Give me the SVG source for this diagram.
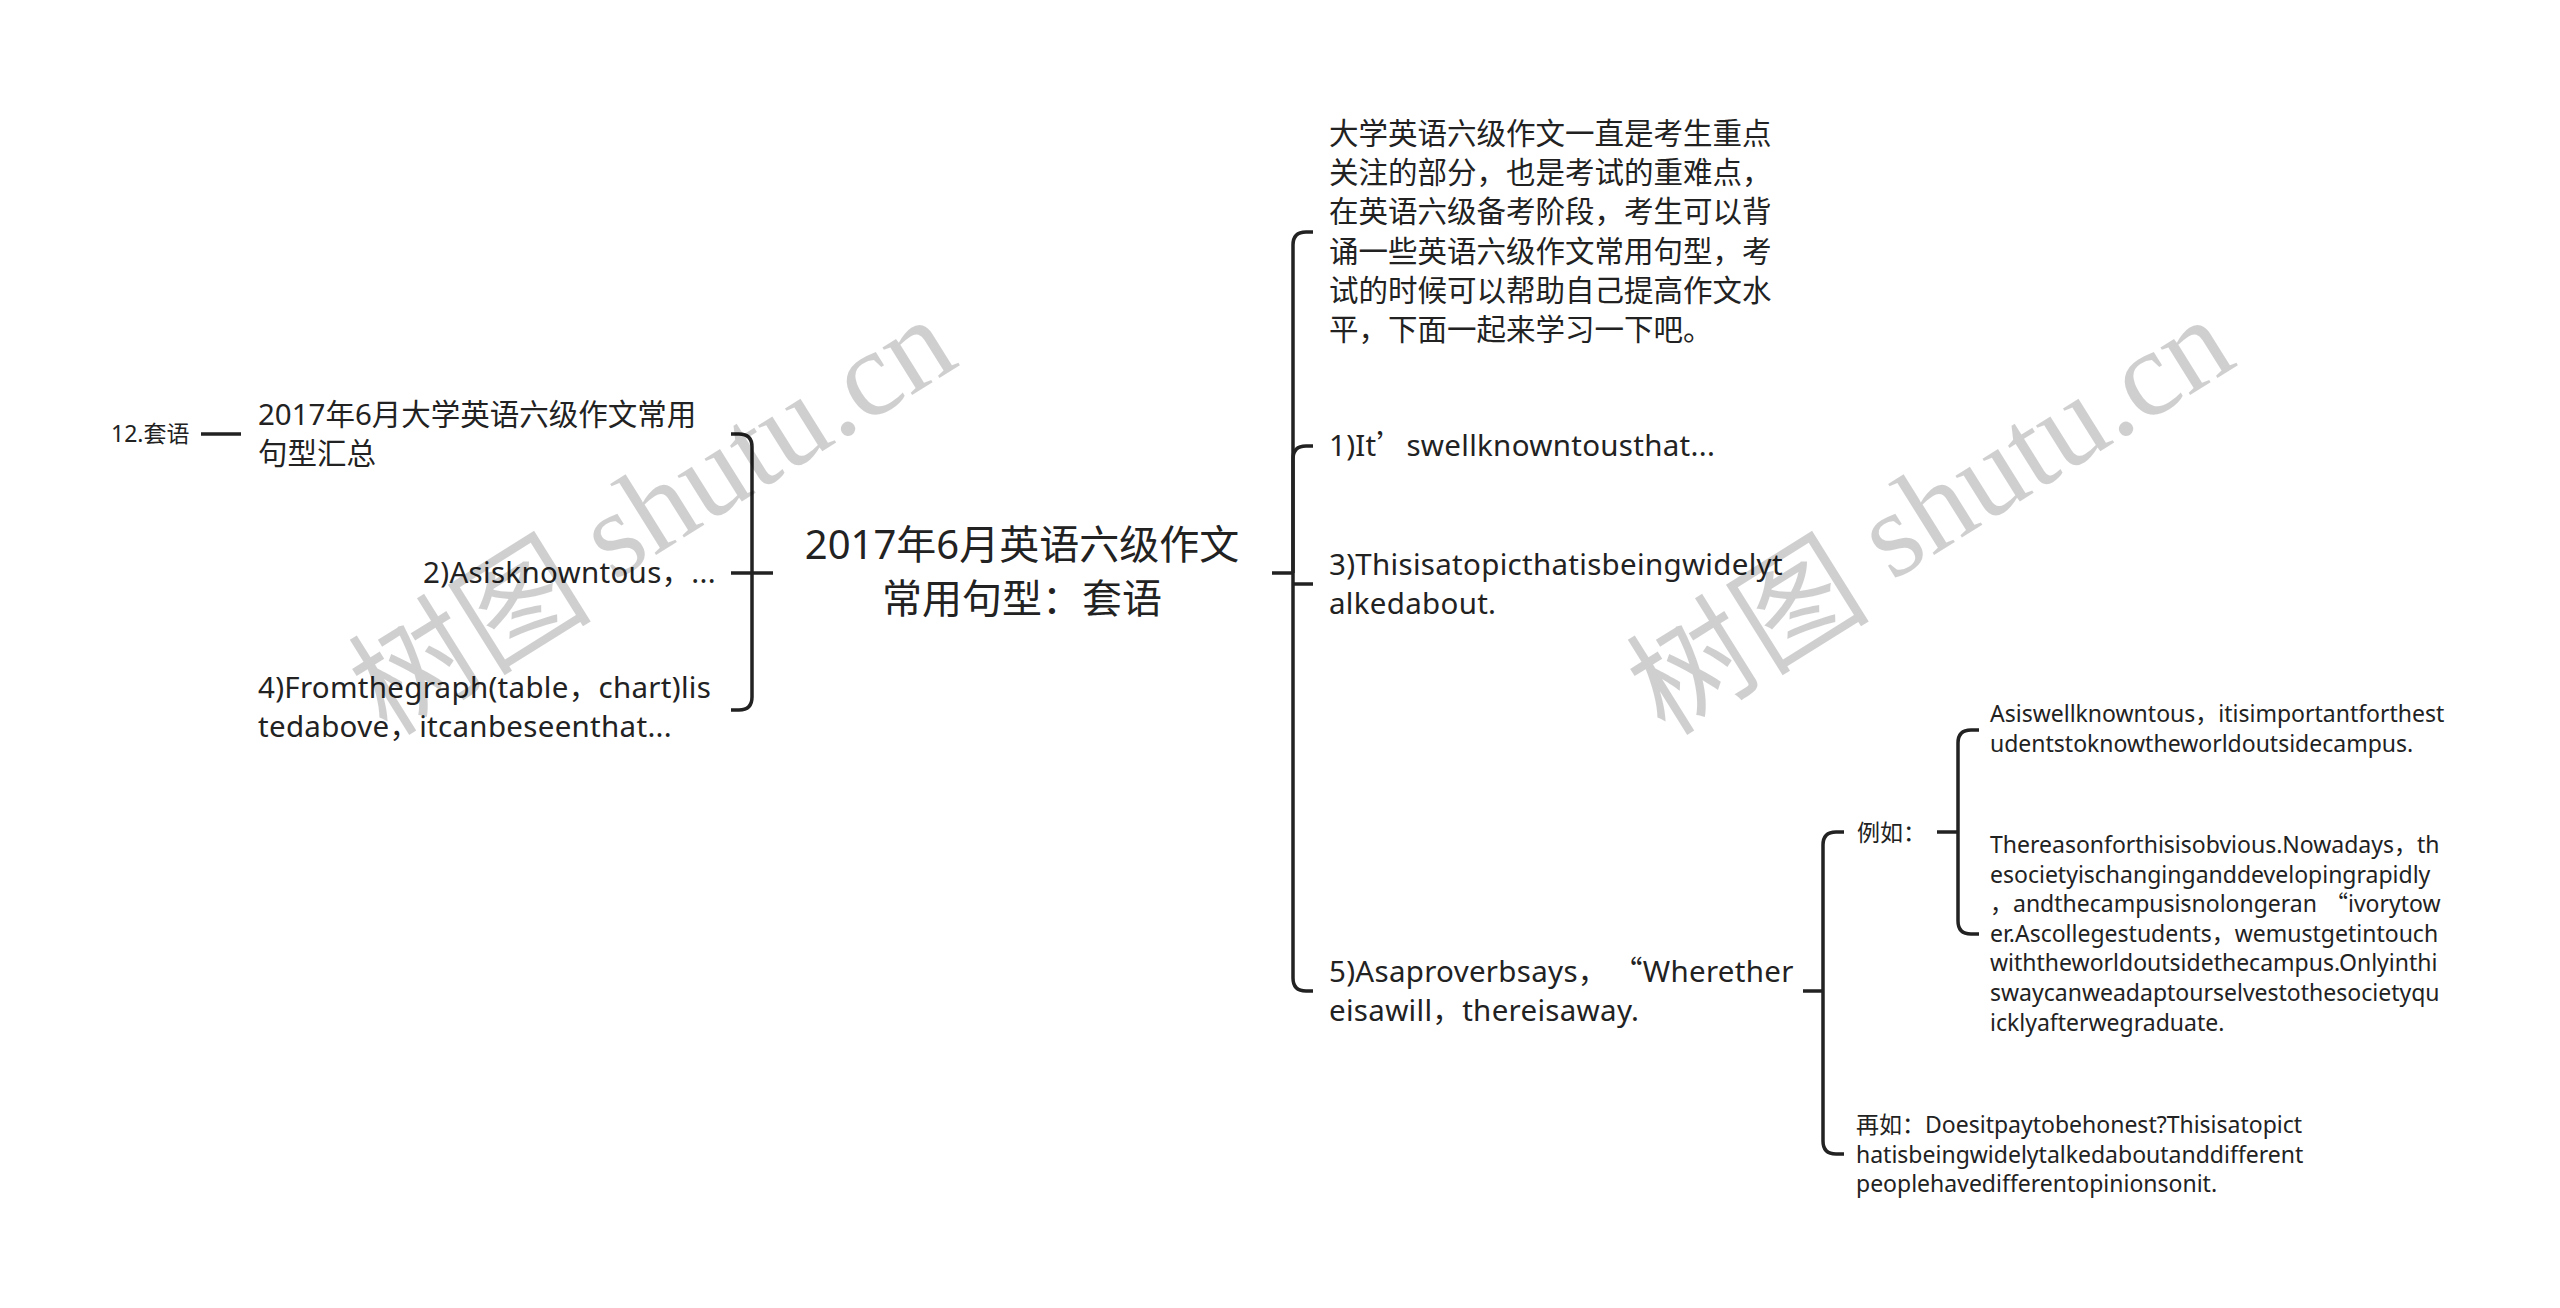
<svg xmlns="http://www.w3.org/2000/svg" width="2560" height="1308" viewBox="0 0 2560 1308">
<style>
.t{font-family:"Noto Sans","Noto Sans CJK SC",sans-serif;fill:#222}
.l1{font-size:40px}
.l2{font-size:29.5px}
.l3{font-size:23px}
.ls{letter-spacing:0.3px}
.q{font-family:"Noto Sans CJK SC",sans-serif}
.c{fill:none;stroke:#222;stroke-width:3.5}
.wm{font-size:122px;fill:#000;fill-opacity:0.19}
.wm .cj{font-family:"Noto Sans CJK SC",sans-serif}
.wm .lt{font-family:"Liberation Serif",serif}
</style>
<rect width="2560" height="1308" fill="#fff"/>
<g id="connectors">
<path class="c" d="M201 434H241"/>
<path class="c" d="M773 573H731"/>
<path class="c" d="M731 434H739Q752 434 752 447V697Q752 710 739 710H731"/>
<path class="c" d="M1272 573H1293"/>
<path class="c" d="M1293 573V245Q1293 232 1306 232H1313"/>
<path class="c" d="M1293 573V459Q1293 446 1306 446H1313"/>
<path class="c" d="M1293 584H1313"/>
<path class="c" d="M1293 573V978Q1293 991 1306 991H1313"/>
<path class="c" d="M1803 991H1823"/>
<path class="c" d="M1823 991V845Q1823 832 1836 832H1844"/>
<path class="c" d="M1823 991V1141Q1823 1154 1836 1154H1844"/>
<path class="c" d="M1937 832H1958"/>
<path class="c" d="M1958 832V743Q1958 730 1971 730H1979"/>
<path class="c" d="M1958 832V921Q1958 934 1971 934H1979"/>
</g>
<g id="root">
<text class="t l1" x="1022" y="559" text-anchor="middle">2017年6月英语六级作文</text>
<text class="t l1" x="1022" y="613" text-anchor="middle">常用句型：套语</text>
</g>
<g id="node-summary">
<text class="t l2" x="258" y="425">2017年6月大学英语六级作文常用</text>
<text class="t l2" x="258" y="464">句型汇总</text>
</g>
<g id="node-taoyu">
<text class="t l3" x="111" y="442">12.套语</text>
</g>
<g id="node-2">
<text class="t l2 ls" x="716" y="583" text-anchor="end">2)Asisknowntous，...</text>
</g>
<g id="node-4">
<text class="t l2 ls" x="258" y="698">4)Fromthegraph(table，chart)lis</text>
<text class="t l2 ls" x="258" y="737">tedabove，itcanbeseenthat...</text>
</g>
<g id="node-intro">
<text class="t l2" x="1329" y="144">大学英语六级作文一直是考生重点</text>
<text class="t l2" x="1329" y="183">关注的部分，也是考试的重难点，</text>
<text class="t l2" x="1329" y="222">在英语六级备考阶段，考生可以背</text>
<text class="t l2" x="1329" y="262">诵一些英语六级作文常用句型，考</text>
<text class="t l2" x="1329" y="301">试的时候可以帮助自己提高作文水</text>
<text class="t l2" x="1329" y="340">平，下面一起来学习一下吧。</text>
</g>
<g id="node-1">
<text class="t l2 ls" x="1329" y="456">1)It<tspan class="q">’</tspan>swellknowntousthat...</text>
</g>
<g id="node-3">
<text class="t l2 ls" x="1329" y="575">3)Thisisatopicthatisbeingwidelyt</text>
<text class="t l2 ls" x="1329" y="614">alkedabout.</text>
</g>
<g id="node-5">
<text class="t l2 ls" x="1329" y="982">5)Asaproverbsays，<tspan class="q" dx="20">“</tspan>Wherether</text>
<text class="t l2 ls" x="1329" y="1021">eisawill，thereisaway.</text>
</g>
<g id="node-liru">
<text class="t l3" x="1857" y="841">例如：</text>
</g>
<g id="node-ex1">
<text class="t l3" x="1990" y="722">Asiswellknowntous，itisimportantforthest</text>
<text class="t l3" x="1990" y="752">udentstoknowtheworldoutsidecampus.</text>
</g>
<g id="node-ex2">
<text class="t l3" x="1990" y="853">Thereasonforthisisobvious.Nowadays，th</text>
<text class="t l3" x="1990" y="883">esocietyischanginganddevelopingrapidly</text>
<text class="t l3" x="1990" y="912">，andthecampusisnolongeran<tspan class="q" dx="8">“</tspan>ivorytow</text>
<text class="t l3" x="1990" y="942">er.Ascollegestudents，wemustgetintouch</text>
<text class="t l3" x="1990" y="971">withtheworldoutsidethecampus.Onlyinthi</text>
<text class="t l3" x="1990" y="1001">swaycanweadaptourselvestothesocietyqu</text>
<text class="t l3" x="1990" y="1031">icklyafterwegraduate.</text>
</g>
<g id="node-zairu">
<text class="t l3" x="1856" y="1133">再如：Doesitpaytobehonest?Thisisatopict</text>
<text class="t l3" x="1856" y="1163">hatisbeingwidelytalkedaboutanddifferent</text>
<text class="t l3" x="1856" y="1192">peoplehavedifferentopinionsonit.</text>
</g>
<g id="watermarks">
<text class="wm" transform="translate(649 510) rotate(-32)" text-anchor="middle" dominant-baseline="central"><tspan class="cj">树图</tspan><tspan class="lt"> shutu.cn</tspan></text>
<text class="wm" transform="translate(1927 510) rotate(-32)" text-anchor="middle" dominant-baseline="central"><tspan class="cj">树图</tspan><tspan class="lt"> shutu.cn</tspan></text>
</g>
</svg>
